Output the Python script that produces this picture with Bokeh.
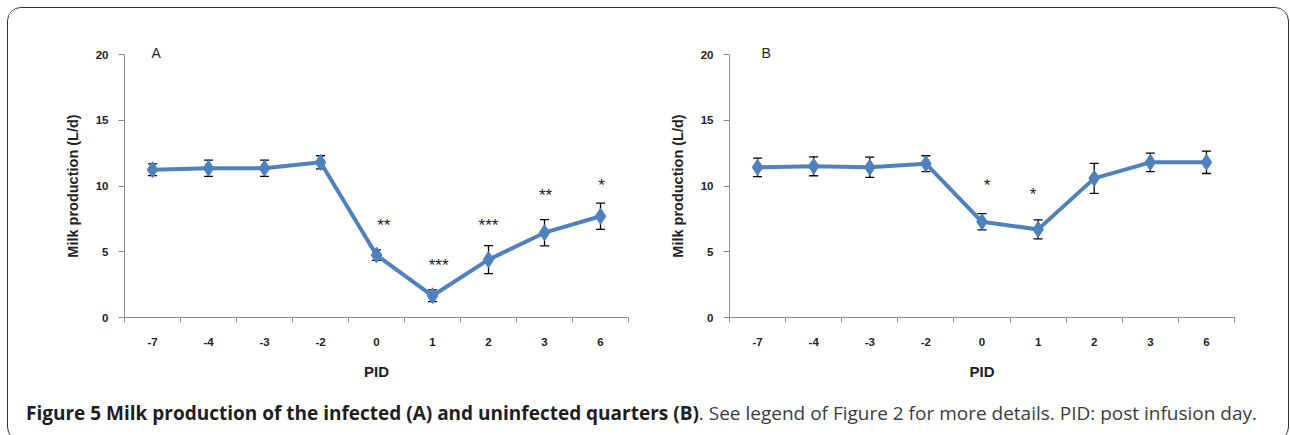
import numpy as np
from bokeh.plotting import figure
from bokeh.models import (ColumnDataSource, Range1d, FixedTicker, Whisker, TeeHead,
                          Div)
from bokeh.layouts import row, column
from bokeh.core.properties import value
from bokeh.embed import file_html
from bokeh.resources import INLINE

# ---- data ----
pid = ["-7", "-4", "-3", "-2", "0", "1", "2", "3", "6"]

a_mean = [11.24, 11.35, 11.35, 11.8, 4.75, 1.65, 4.4, 6.45, 7.7]
a_err = [0.45, 0.62, 0.62, 0.5, 0.4, 0.45, 1.07, 1.0, 1.0]
a_star_pid = ["0", "1", "2", "3", "6"]
a_star_txt = ["**", "***", "***", "**", "*"]
a_star_y = [7.22, 4.18, 7.22, 9.5, 10.27]
a_star_dx = [0.13, 0.11, 0.0, 0.02, 0.02]

b_mean = [11.42, 11.5, 11.42, 11.7, 7.28, 6.7, 10.58, 11.8, 11.8]
b_err = [0.7, 0.72, 0.77, 0.6, 0.62, 0.72, 1.14, 0.7, 0.85]
b_star_pid = ["0", "1"]
b_star_txt = ["*", "*"]
b_star_y = [10.27, 9.58]
b_star_dx = [0.09, -0.09]

y_ticks = [0, 5, 10, 15, 20]

BLUE = "#4F81BD"
AXIS = "#8C8C8C"
FONT = "Liberation Sans"


def panel(mean, err, star_pid, star_txt, star_y, star_dx, letter, letter_off,
          width, border_left, border_right):
    idx = {c: i for i, c in enumerate(pid)}
    xs = [i + 0.5 for i in range(len(pid))]
    src = ColumnDataSource(dict(x=xs, y=mean,
                                lo=[m - e for m, e in zip(mean, err)],
                                hi=[m + e for m, e in zip(mean, err)]))
    p = figure(width=width, height=380, output_backend="svg", toolbar_location=None,
               x_range=Range1d(0, len(pid)), y_range=Range1d(0, 20),
               min_border_left=border_left, min_border_right=border_right,
               min_border_top=46, min_border_bottom=71)
    p.outline_line_color = None
    p.grid.grid_line_color = None
    p.background_fill_color = "white"
    p.border_fill_color = "white"

    p.title.text = letter
    p.title.align = "left"
    p.title.offset = letter_off
    p.title.standoff = -13
    p.title.text_font = FONT
    p.title.text_font_style = "normal"
    p.title.text_font_size = "14px"
    p.title.text_color = "#222222"

    p.line("x", "y", source=src, line_color=BLUE, line_width=4)
    p.scatter("x", "y", source=src, marker="diamond", size=16, fill_color=BLUE,
              line_color=BLUE)
    w = Whisker(base="x", upper="hi", lower="lo", source=src, line_color="black",
                line_width=1.3,
                upper_head=TeeHead(size=9, line_color="black", line_width=1.3),
                lower_head=TeeHead(size=9, line_color="black", line_width=1.3))
    p.add_layout(w)

    sx = [idx[c] + 0.5 + d for c, d in zip(star_pid, star_dx)]
    ssrc = ColumnDataSource(dict(x=sx, y=star_y, t=star_txt))
    p.text("x", "y", text="t", source=ssrc, text_font=value(FONT),
           text_font_size="17px", text_align="center", text_baseline="alphabetic",
           y_offset=3, text_color="#222222")

    # x axis
    xa = p.xaxis[0]
    xa.ticker = FixedTicker(ticks=xs, minor_ticks=list(range(len(pid) + 1)))
    xa.major_label_overrides = {x: c for x, c in zip(xs, pid)}
    xa.major_tick_line_color = None
    xa.major_tick_out = 6
    xa.minor_tick_line_color = AXIS
    xa.minor_tick_out = 5
    xa.minor_tick_in = 0
    xa.axis_line_color = AXIS
    xa.major_label_text_font = FONT
    xa.major_label_text_font_style = "bold"
    xa.major_label_text_font_size = "11.5px"
    xa.major_label_text_color = "#222222"
    xa.major_label_standoff = 14
    xa.axis_label = "PID"
    xa.axis_label_text_font = FONT
    xa.axis_label_text_font_style = "bold"
    xa.axis_label_text_font_size = "15px"
    xa.axis_label_text_color = "#222222"
    xa.axis_label_standoff = 14

    ya = p.yaxis[0]
    ya.ticker = FixedTicker(ticks=y_ticks)
    ya.minor_tick_line_color = None
    ya.major_tick_out = 6
    ya.major_tick_in = 0
    ya.major_tick_line_color = AXIS
    ya.axis_line_color = AXIS
    ya.major_label_text_font = FONT
    ya.major_label_text_font_style = "bold"
    ya.major_label_text_font_size = "11.5px"
    ya.major_label_text_color = "#222222"
    ya.major_label_standoff = 10
    ya.axis_label = "Milk production (L/d)"
    ya.axis_label_text_font = FONT
    ya.axis_label_text_font_style = "bold"
    ya.axis_label_text_font_size = "14.5px"
    ya.axis_label_text_color = "#222222"
    ya.axis_label_standoff = 12
    return p


pa = panel(a_mean, a_err, a_star_pid, a_star_txt, a_star_y, a_star_dx, "A", 27,
           640, 116, 20)
pb = panel(b_mean, b_err, b_star_pid, b_star_txt, b_star_y, b_star_dx, "B", 32,
           637, 81, 51)

caption = Div(
    text=('<span style="font-weight:bold;color:#1e1e1e">Figure 5 Milk production of the '
          'infected (A) and uninfected quarters (B)</span>. See legend of Figure 2 for '
          'more details. PID: post infusion day.'),
    width=1270, height=42,
    styles={"font-family": "'Open Sans'", "font-size": "19px", "color": "#3c3c3c",
            "padding-left": "13px", "padding-top": "7px", "white-space": "nowrap"})

layout = column(row(pa, pb), caption,
                styles={"border": "1.5px solid #333333", "border-radius": "14px",
                        "background": "white", "overflow": "hidden",
                        "margin-left": "7px", "margin-top": "7px"})

open("out.html", "w").write(file_html(layout, INLINE))
